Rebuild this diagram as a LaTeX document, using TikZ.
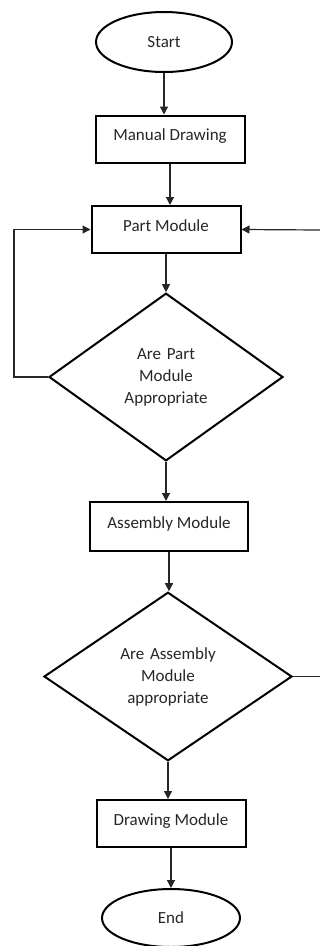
\documentclass[tikz,border=0pt]{standalone}
\usepackage{fontspec}
\setmainfont{Carlito}
\usetikzlibrary{shapes.geometric,arrows.meta}
\begin{document}
\begin{tikzpicture}[x=1pt,y=-1pt,
  every node/.style={font=\fontsize{17}{22}\selectfont, text=black!85},
  boxnode/.style={draw, line width=2pt, minimum width=149pt, minimum height=47pt, inner sep=0pt, text height=12pt, text depth=9pt},
  ovalnode/.style={ellipse, draw, line width=2pt, minimum width=136pt, minimum height=60pt, inner sep=0pt},
  decnode/.style={diamond, draw, line width=2pt, inner sep=0pt, align=center, text width=110pt},
  conn/.style={line width=1.2pt, draw=black!85},
  arr/.style={conn, -{Triangle[length=8pt,width=8pt]}}
]
\useasboundingbox (0,0) rectangle (320,946);
\node[ovalnode] (start) at (164,42) {Start};
\node[boxnode] (manual) at (170,139) {Manual Drawing};
\node[boxnode] (part) at (166,229.5) {Part Module};
\node[decnode, minimum width=234pt, minimum height=162pt] (d1) at (166,377) {Are Part\\Module\\Appropriate};
\node[boxnode, minimum width=158pt, minimum height=49pt] (asm) at (169,526.5) {Assembly Module};
\node[decnode, minimum width=248pt, minimum height=163pt] (d2) at (168,676.5) {Are Assembly\\Module\\appropriate};
\node[boxnode] (drw) at (171,823.5) {Drawing Module};
\node[ovalnode, minimum width=138pt, minimum height=58pt] (end) at (171,918) {End};

\coordinate (lp) at (14,377);
\coordinate (r1) at (320,230);
\coordinate (r2) at (320,676.5);

\draw[arr] (start.south) -- (start.south |- manual.north);
\draw[arr] (manual.south) -- (manual.south |- part.north);
\draw[arr] (part.south) -- (part.south |- d1.north);
\draw[arr] (d1.south) -- (d1.south |- asm.north);
\draw[arr] (asm.south) -- (asm.south |- d2.north);
\draw[arr] (d2.south) -- (d2.south |- drw.north);
\draw[arr] (drw.south) -- (drw.south |- end.north);
\draw[arr] (d1.west) -- (lp) |- (part.west);
\draw[arr] (r1) -- (part.east);
\draw[conn] (d2.east) -- (r2);
\end{tikzpicture}
\end{document}
